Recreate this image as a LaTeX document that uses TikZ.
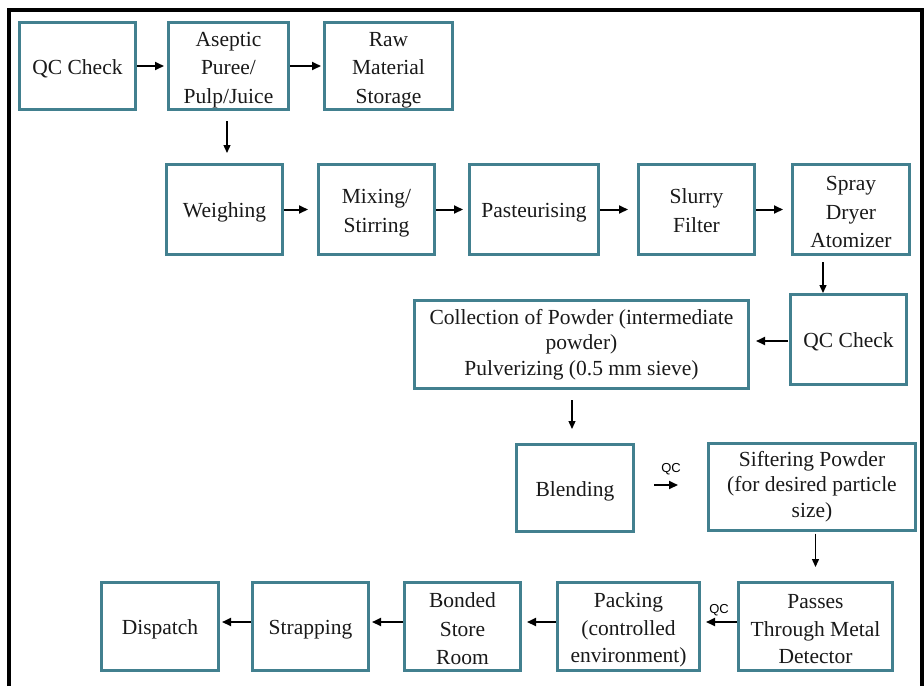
\documentclass[tikz,border=0pt]{standalone}
\usepackage{fontspec}
\setmainfont{Liberation Serif}
\newfontfamily\qcfont{Liberation Sans}
\usetikzlibrary{arrows.meta}
\definecolor{boxteal}{RGB}{66,128,143}
\newcommand\mystrh{\rule{0pt}{22.5pt}}
\newcommand\mystrd{\rule[-6pt]{0pt}{6pt}}
\newcommand\mystre{\rule[-3pt]{0pt}{3pt}}
\newcommand\tx[1]{\mystrh#1\mystrd}
\newcommand\txc[1]{\mystrh#1\mystre}
\begin{document}
\begin{tikzpicture}[x=1pt,y=-1pt,
  stepbox/.style={draw=boxteal,line width=3pt,align=center,inner xsep=2pt,inner ysep=0pt,
    font=\fontsize{21.5}{28.5}\selectfont,text=black!90},
  tight/.style={font=\fontsize{21.5}{25.5}\selectfont},
  arr/.style={-{Triangle[length=9pt,width=8pt]},line width=2pt},
  varr/.style={-{Triangle[length=8pt,width=7pt]},line width=1.3pt},
  qclab/.style={font=\qcfont\fontsize{13}{13}\selectfont,inner sep=0pt}]
\useasboundingbox (0,0) rectangle (924,686);
\draw[line width=3.5pt] (9,686) -- (9,10) -- (922,10) -- (922,686);

% Row 1
\node[stepbox,minimum width=116pt,minimum height=87pt] (qc1) at (77.5,66) {\tx{QC Check}};
\node[stepbox,minimum width=120pt,minimum height=87pt] (asep) at (228.5,66) {\txc{Aseptic\\Puree/\\Pulp/Juice}};
\node[stepbox,minimum width=128pt,minimum height=87pt] (raw) at (388.5,66) {\txc{Raw\\Material\\Storage}};
% Row 2
\node[stepbox,minimum width=116pt,minimum height=90pt] (weigh) at (224.5,209.5) {\tx{Weighing}};
\node[stepbox,minimum width=116pt,minimum height=90pt] (mix) at (376.5,209.5) {\tx{Mixing/\\Stirring}};
\node[stepbox,minimum width=129pt,minimum height=90pt] (past) at (534,209.5) {\tx{Pasteurising}};
\node[stepbox,minimum width=116pt,minimum height=90pt] (slurry) at (696.5,209.5) {\tx{Slurry\\Filter}};
\node[stepbox,minimum width=117pt,minimum height=90pt] (spray) at (851,209.5) {\txc{Spray\\Dryer\\Atomizer}};
% Row 3
\node[stepbox,minimum width=116pt,minimum height=90pt] (qc2) at (848.5,339.5) {\tx{QC Check}};
\node[stepbox,tight,minimum width=334pt,minimum height=88pt] (coll) at (581.5,344.5) {Collection of Powder (intermediate\\powder)\\Pulverizing (0.5 mm sieve)};
% Row 4
\node[stepbox,minimum width=117pt,minimum height=87pt] (blend) at (575,488) {\tx{Blending}};
\node[stepbox,tight,minimum width=207pt,minimum height=87pt] (sift) at (812,486.5) {Siftering Powder\\(for desired particle\\size)};
% Row 5
\node[stepbox,minimum width=117pt,minimum height=88pt] (disp) at (160,626.5) {\tx{Dispatch}};
\node[stepbox,minimum width=116pt,minimum height=88pt] (strap) at (310.5,626.5) {\tx{Strapping}};
\node[stepbox,minimum width=116pt,minimum height=88pt] (bond) at (462.5,626.5) {\txc{Bonded\\Store\\Room}};
\node[stepbox,font=\fontsize{21.5}{27.5}\selectfont,minimum width=142pt,minimum height=88pt] (pack) at (628.5,626.5) {\txc{Packing\\(controlled\\environment)}};
\node[stepbox,font=\fontsize{21.5}{27.5}\selectfont,minimum width=154pt,minimum height=88pt] (pass) at (815.5,626.5) {\txc{Passes\\Through Metal\\Detector}};

% Row 1 arrows
\draw[arr,shorten >=3pt] (qc1.east) -- (asep.west |- qc1.east);
\draw[arr,shorten >=2pt] (asep.east) -- (raw.west |- asep.east);
\draw[varr,shorten <=10pt,shorten >=10pt] ([xshift=-1.5pt]asep.south) -- ([xshift=-1.5pt]asep.south |- weigh.north);
% Row 2 arrows
\draw[arr,shorten >=9pt] (weigh.east) -- (mix.west |- weigh.east);
\draw[arr,shorten >=5pt] (mix.east) -- (past.west |- mix.east);
\draw[arr,shorten >=9pt] (past.east) -- (slurry.west |- past.east);
\draw[arr,shorten >=8pt] (slurry.east) -- (spray.west |- slurry.east);
\draw[varr,shorten <=6pt] ([xshift=-28pt]spray.south) -- ([xshift=-28pt]spray.south |- qc2.north);
% Row 3 arrows
\draw[arr,shorten <=1pt,shorten >=6pt] ([yshift=-1.5pt]qc2.west) -- ([yshift=-1.5pt]qc2.west -| coll.east);
\draw[varr,shorten <=10pt,shorten >=14pt] ([xshift=-3pt]blend.north |- coll.south) -- ([xshift=-3pt]blend.north);
% Row 4 arrows
\draw[arr,shorten <=19pt,shorten >=29pt] ([yshift=3pt]blend.east) -- ([yshift=3pt]blend.east -| sift.west) node[qclab,midway,above=9pt] {QC};
\draw[varr,shorten <=2pt,shorten >=14pt] (pass.north |- sift.south) -- (pass.north);
% Row 5 arrows
\draw[arr,shorten >=5pt] ([yshift=4.5pt]pass.west) -- ([yshift=4.5pt]pass.west -| pack.east) node[qclab,midway,above=5pt] {QC};
\draw[arr,shorten >=5pt] ([yshift=4.5pt]pack.west) -- ([yshift=4.5pt]pack.west -| bond.east);
\draw[arr,shorten >=2pt] ([yshift=4.5pt]bond.west) -- ([yshift=4.5pt]bond.west -| strap.east);
\draw[arr,shorten >=2pt] ([yshift=4.5pt]strap.west) -- ([yshift=4.5pt]strap.west -| disp.east);
\end{tikzpicture}
\end{document}
